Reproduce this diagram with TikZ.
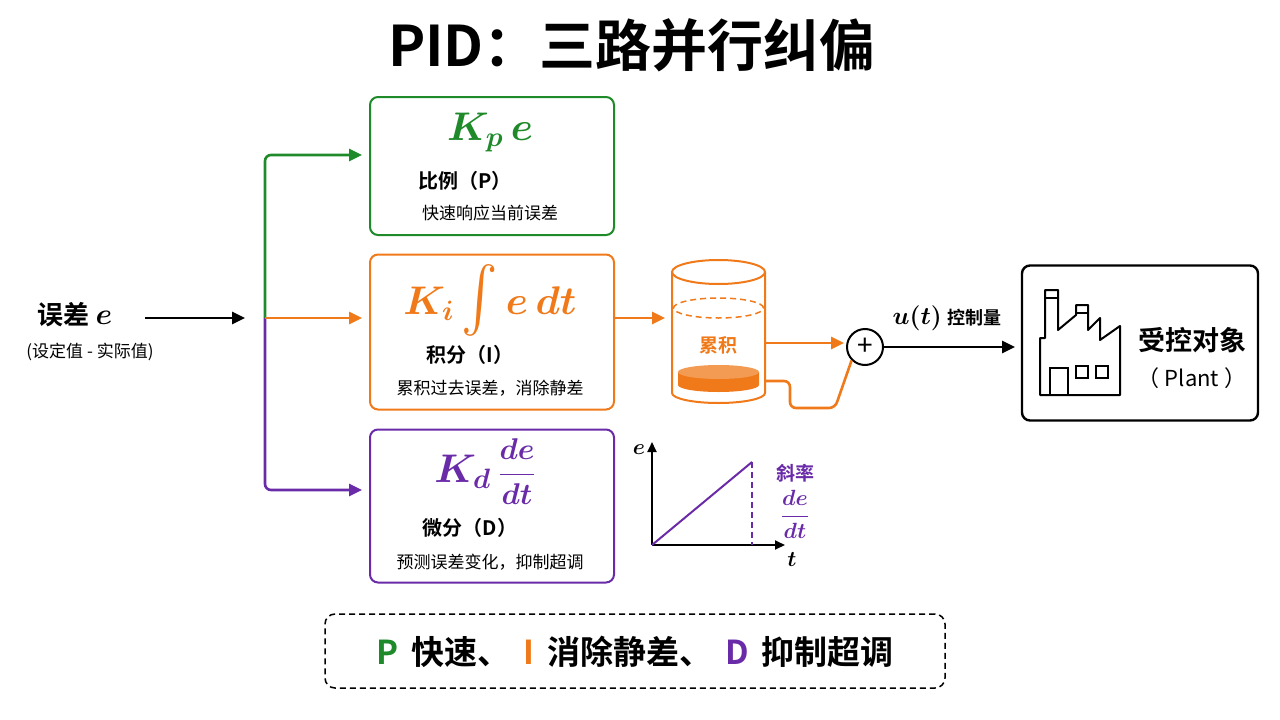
\RequirePackage{fix-cm}
\documentclass[tikz,border=0pt]{standalone}
\usepackage{amsmath}
\usepackage{graphicx}
\usepackage{fontspec}
\setmainfont{Noto Sans CJK SC}
\newfontfamily\cjkb{Noto Sans CJK SC Bold}
\usetikzlibrary{arrows.meta}
\definecolor{pg}{HTML}{1E8A2A}
\definecolor{po}{HTML}{F07A1A}
\definecolor{pp}{HTML}{6A2BA8}
\newcommand{\fsz}[1]{\fontsize{#1pt}{#1pt}\selectfont}
\begin{document}
\begin{tikzpicture}[x=1pt,y=-1pt,
  box/.style={draw,line width=2pt,rounded corners=8pt},
  arr/.style={line width=2.6pt,-{Triangle[length=13pt,width=12pt]}},
  mth/.style={font=\fsz{40}\boldmath},
  t1/.style={font=\fsz{20}},
  t2/.style={font=\fsz{17}}]
\useasboundingbox (0,0) rectangle (1280,720);
\node (title) at (632,45) {\cjkb\fsz{56}PID：三路并行纠偏};
\node (err) at (75,315) {\cjkb\fsz{26}误差 {\fsz{30}$\boldsymbol{e}$}};
\node (errs) at (90,352) {\fsz{17}(设定值 - 实际值)};
\coordinate (j) at (265,318);
\draw[arr] (145,318) -- (245,318);
\node[box,draw=pg,minimum width=244pt,minimum height=138pt] (P) at (492,166) {};
\node[box,draw=po,minimum width=244pt,minimum height=155pt] (I) at (492,332) {};
\node[box,draw=pp,minimum width=244pt,minimum height=153pt] (D) at (492,506) {};
\draw[arr,pg,rounded corners=6pt] (j) |- (362,155);
\draw[arr,pp,rounded corners=6pt] (j) |- (362,490);
\draw[arr,po] (j) -- (362,318);
\node[mth,pg] (pm) at (490,132) {$K_p\,e$};
\node[t1] (pt) at (465,181) {\cjkb 比例（P）};
\node[t2] (pd) at (490,213) {快速响应当前误差};
\node[mth,po] (im) at (490,300) {$K_i\,\raisebox{-12pt}{\scalebox{2.2}[2.6]{$\int$}}\,e\,dt$};
\node[t1] (it) at (470,355) {\cjkb 积分（I）};
\node[t2] (id) at (490,388) {累积过去误差，消除静差};
\node[mth,pp] (dm) at (485,472) {$K_d\,$\fsz{30}$\dfrac{de}{dt}$};
\node[t1] (dt) at (470,528) {\cjkb 微分（D）};
\node[t2] (dd) at (490,562) {预测误差变化，抑制超调};
% cylinder
\draw[arr,po] (614,318) -- (665,318);
\draw[po,line width=2pt] (672,272) -- (672,393) arc[start angle=180,end angle=360,x radius=46.5pt,y radius=10pt] -- (765,272);
\draw[po,line width=2pt] (718.5,272) ellipse[x radius=46.5pt,y radius=12pt];
\draw[po,line width=1.5pt,dash pattern=on 6pt off 4pt] (718.5,308) ellipse[x radius=45pt,y radius=10pt];
\fill[po] (678,372) -- (678,385) arc[start angle=180,end angle=360,x radius=40.5pt,y radius=7pt] -- (759,372) -- cycle;
\fill[po!75] (718.5,372) ellipse[x radius=40.5pt,y radius=7pt];
\node[po,font=\cjkb\fsz{19}] (cyl) at (718,345) {累积};
\node[draw,circle,line width=2pt,minimum size=36pt,inner sep=0pt,font=\fsz{28}] (sum) at (865,347) {+};
\draw[arr,po] (765,343) -- (844,343);
\draw[po,line width=2.6pt,rounded corners=6pt] (765,381) -- (790,381) -- (790,408) -- (835,408) -- (sum.south west);
\draw[arr] (sum.east) -- (1015,347);
\node (u) at (947,318) {\fsz{25}$\boldsymbol{u(t)}$ {\cjkb\fsz{18}控制量}};
% plant
\node[box,draw=black,line width=2.4pt,minimum width=236pt,minimum height=155pt] (plant) at (1140,343) {};
\draw[line width=2pt,line join=round] (1040,395) -- (1040,338) -- (1045,338) -- (1045,290) -- (1058,290) -- (1058,330) -- (1076,315) -- (1076,305) -- (1088,305) -- (1088,330) -- (1100,318) -- (1100,340) -- (1120,326) -- (1120,395) -- cycle;
\draw[line width=1.6pt] (1044,298) -- (1059,298) (1075,313) -- (1089,313);
\draw[line width=1.6pt] (1050,395) -- (1050,368) -- (1068,368) -- (1068,395);
\draw[line width=1.6pt] (1076,366) rectangle (1088,378) (1096,366) rectangle (1108,378);
\node (pl1) at (1192,340) {\cjkb\fsz{27}受控对象};
\node (pl2) at (1192,378) {\fsz{22}（ Plant ）};
% graph
\coordinate (o) at (652,545);
\draw[line width=1.8pt,-{Triangle[length=10pt,width=9pt]}] (o) -- (652,442);
\draw[line width=1.8pt,-{Triangle[length=10pt,width=9pt]}] (o) -- (785,545);
\node (ge) at (639,450) {\fsz{22}$\boldsymbol{e}$};
\node (gt) at (792,560) {\fsz{22}$\boldsymbol{t}$};
\draw[pp,line width=2pt] (o) -- (752,462);
\draw[pp,line width=1.5pt,dash pattern=on 6pt off 4pt] (752,462) -- (752,545);
\node[pp] (sl) at (795,473) {\cjkb\fsz{19}斜率};
\node[pp,font=\fsz{22}\boldmath] (slf) at (795,514) {$\dfrac{de}{dt}$};
% summary
\node[draw,dash pattern=on 6pt off 4pt,line width=1.5pt,rounded corners=10pt,minimum width=620pt,minimum height=74pt] (sumbox) at (635,651) {};
\node (sumt) at (635,652) {\cjkb\fsz{33}{\color{pg}P}\, 快速、\, {\color{po}I}\, 消除静差、\, {\color{pp}D}\, 抑制超调};
\end{tikzpicture}
\end{document}
